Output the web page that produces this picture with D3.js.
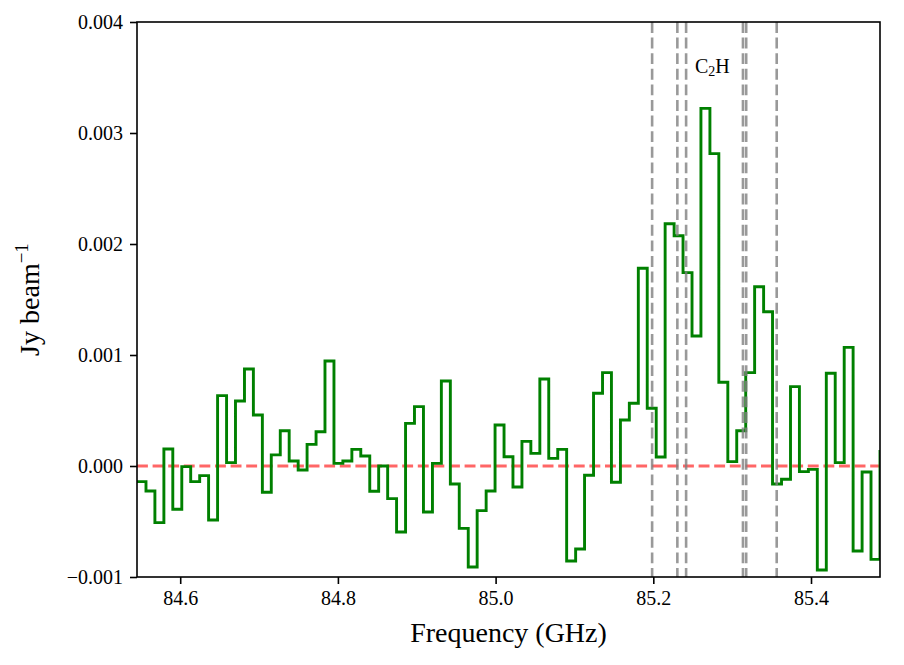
<!DOCTYPE html>
<html>
<head>
<meta charset="utf-8">
<script src="https://cdn.jsdelivr.net/npm/d3@7/dist/d3.min.js"></script>
<style>
  body { margin: 0; background: #fff; }
  svg text { font-family: "Liberation Serif", "DejaVu Serif", serif; fill: #000; }
</style>
</head>
<body>
<div id="chart"></div>
<script>
// channel frequencies (GHz)
const freqs = [
  84.5452, 84.5566, 84.5679, 84.5793, 84.5906, 84.6020, 84.6133, 84.6247, 84.6360, 84.6474,
  84.6588, 84.6701, 84.6815, 84.6928, 84.7042, 84.7155, 84.7269, 84.7382, 84.7496, 84.7609,
  84.7723, 84.7836, 84.7950, 84.8063, 84.8177, 84.8290, 84.8404, 84.8517, 84.8631, 84.8744,
  84.8858, 84.8971, 84.9085, 84.9199, 84.9312, 84.9426, 84.9539, 84.9653, 84.9766, 84.9880,
  84.9993, 85.0107, 85.0220, 85.0334, 85.0447, 85.0561, 85.0674, 85.0788, 85.0901, 85.1015,
  85.1128, 85.1242, 85.1356, 85.1469, 85.1583, 85.1696, 85.1810, 85.1923, 85.2037, 85.2150,
  85.2264, 85.2377, 85.2491, 85.2604, 85.2718, 85.2831, 85.2945, 85.3058, 85.3172, 85.3285,
  85.3399, 85.3512, 85.3626, 85.3740, 85.3853, 85.3967, 85.4080, 85.4194, 85.4307, 85.4421,
  85.4534, 85.4648, 85.4761, 85.4875
];

// flux density (Jy/beam)
const flux = [
  -0.000141, -0.000225, -0.00051, 0.000153, -0.00039, -0.000006, -0.000141, -0.000087, -0.000486, 0.000634,
  0.00003, 0.000586, 0.000874, 0.00046, -0.000237, 0.0001, 0.000318, 0.000045, -0.000036, 0.000195,
  0.000309, 0.000946, 0.000024, 0.000045, 0.00015, 0.00009, -0.000228, 0.0, -0.000294, -0.000595,
  0.000384, 0.000535, -0.000414, 0.000024, 0.000766, -0.000162, -0.000562, -0.00091, -0.000402, -0.000225,
  0.000369, 0.000084, -0.000189, 0.000222, 0.000114, 0.000784, 0.000069, 0.00015, -0.000856, -0.000748,
  -0.000084, 0.000655, 0.000841, -0.000147, 0.000414, 0.000565, 0.001781, 0.00052, 0.000081, 0.002183,
  0.002075, 0.001742, 0.001171, 0.003222, 0.002814, 0.000754, 0.000039, 0.000318, 0.000841, 0.001615,
  0.00139, -0.000162, -0.00012, 0.000715, -0.000051, -0.00003, -0.000937, 0.000835, 0.00003, 0.001069,
  -0.000766, -0.000054, -0.000841, 0.000144
];

// C2H hyperfine components (observed frame)
const c2hLines = [85.1985, 85.2305, 85.2416, 85.3137, 85.3178, 85.3565];

const xTicks = [84.6, 84.8, 85.0, 85.2, 85.4];
const yTicks = [-0.001, 0, 0.001, 0.002, 0.003, 0.004];

const width = 904;
const height = 665;
const margin = { top: 22, right: 24, bottom: 88, left: 137 };
const plotW = width - margin.left - margin.right;
const plotH = height - margin.top - margin.bottom;

const svg = d3
  .select("#chart")
  .append("svg")
  .attr("width", width)
  .attr("height", height);

const g = svg
  .append("g")
  .attr("transform", "translate(" + margin.left + "," + margin.top + ")");

const x = d3.scaleLinear().domain(d3.extent(freqs)).range([0, plotW]);
const y = d3.scaleLinear().domain([-0.001, 0.004]).range([plotH, 0]);

g.append("defs")
  .append("clipPath")
  .attr("id", "clip")
  .append("rect")
  .attr("width", plotW)
  .attr("height", plotH);

const plot = g.append("g").attr("clip-path", "url(#clip)");

// zero level
plot
  .append("line")
  .attr("x1", 0)
  .attr("x2", plotW)
  .attr("y1", y(0))
  .attr("y2", y(0))
  .attr("stroke", "red")
  .attr("stroke-opacity", 0.6)
  .attr("stroke-width", 2.9)
  .attr("stroke-dasharray", "10.9,4.7");

// spectrum
const line = d3
  .line()
  .x((d, i) => x(freqs[i]))
  .y((d) => y(d))
  .curve(d3.curveStepAfter);

plot
  .append("path")
  .datum(flux)
  .attr("d", line)
  .attr("fill", "none")
  .attr("stroke", "green")
  .attr("stroke-width", 2.9)
  .attr("stroke-linejoin", "miter");

// line markers
plot
  .selectAll(".c2h")
  .data(c2hLines)
  .enter()
  .append("line")
  .attr("class", "c2h")
  .attr("x1", (d) => x(d))
  .attr("x2", (d) => x(d))
  .attr("y1", 0)
  .attr("y2", plotH)
  .attr("stroke", "gray")
  .attr("stroke-opacity", 0.8)
  .attr("stroke-width", 2.6)
  .attr("stroke-dasharray", "10.9,4.7");

const label = g
  .append("text")
  .attr("x", 558)
  .attr("y", 51)
  .attr("font-size", 20);
label.append("tspan").text("C");
label.append("tspan").attr("font-size", 14).attr("dy", 3).text("2");
label.append("tspan").attr("dy", -3).text("H");

// axes
const xAxis = d3
  .axisBottom(x)
  .tickValues(xTicks)
  .tickFormat(d3.format(".1f"))
  .tickSize(7)
  .tickPadding(7);

const yAxis = d3
  .axisLeft(y)
  .tickValues(yTicks)
  .tickFormat((d) => d3.format(".3f")(d).replace("-", "\u2212"))
  .tickSize(7)
  .tickPadding(7);

const gx = g
  .append("g")
  .attr("transform", "translate(0," + plotH + ")")
  .call(xAxis);
const gy = g.append("g").call(yAxis);

[gx, gy].forEach((a) => {
  a.select(".domain").remove();
  a.selectAll(".tick line").attr("stroke", "#000").attr("stroke-width", 1.6);
  a.selectAll(".tick text")
    .attr("font-size", 20)
    .attr("font-family", "Liberation Serif, DejaVu Serif, serif");
});

// frame
g.append("rect")
  .attr("width", plotW)
  .attr("height", plotH)
  .attr("fill", "none")
  .attr("stroke", "#000")
  .attr("stroke-width", 1.6);

g.append("text")
  .attr("x", plotW / 2)
  .attr("y", plotH + 65)
  .attr("text-anchor", "middle")
  .attr("font-size", 28)
  .text("Frequency (GHz)");

const ylab = svg
  .append("text")
  .attr("transform", "translate(39," + (margin.top + plotH / 2) + ") rotate(-90)")
  .attr("text-anchor", "middle")
  .attr("font-size", 28);
ylab.append("tspan").text("Jy beam");
ylab.append("tspan").attr("font-size", 19).attr("dy", -11).text("\u22121");
</script>
</body>
</html>
